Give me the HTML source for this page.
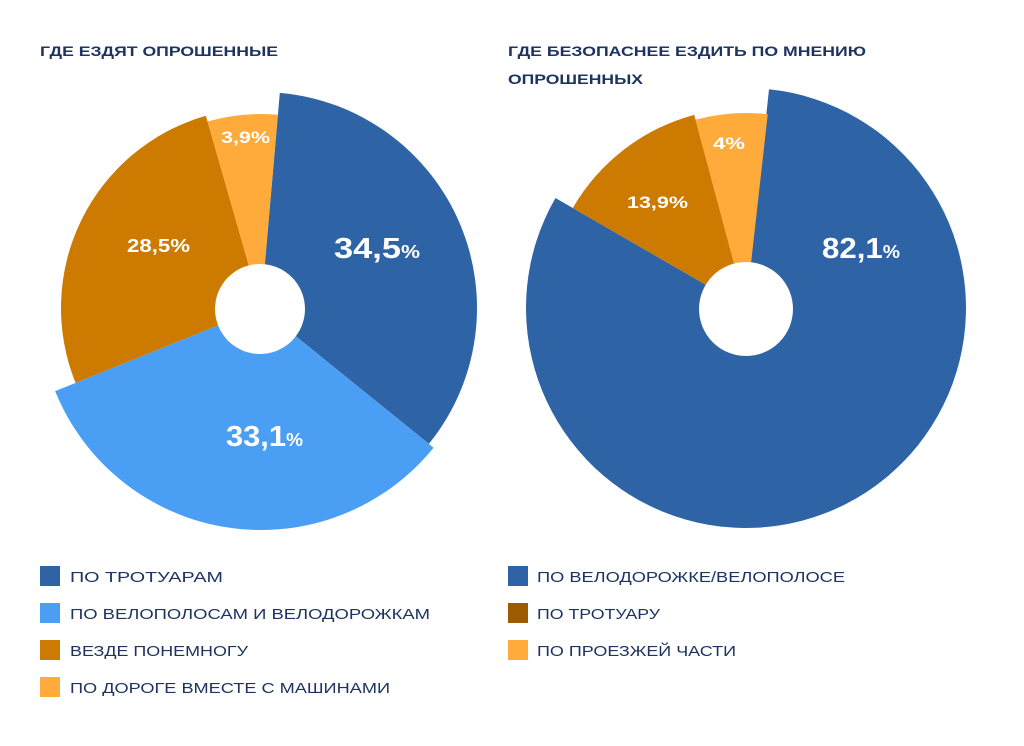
<!DOCTYPE html>
<html><head><meta charset="utf-8"><style>
body{margin:0;background:#fff;width:1024px;height:741px;overflow:hidden;font-family:"Liberation Sans",sans-serif}
</style></head><body>
<svg width="1024" height="741" viewBox="0 0 1024 741" xmlns="http://www.w3.org/2000/svg" font-family="Liberation Sans, sans-serif">
<rect width="1024" height="741" fill="#fff"/>
<g fill="#1d3461" font-size="14" font-weight="bold">
<text x="40" y="56" textLength="238" lengthAdjust="spacingAndGlyphs">ГДЕ ЕЗДЯТ ОПРОШЕННЫЕ</text>
<text x="508" y="56" textLength="358" lengthAdjust="spacingAndGlyphs">ГДЕ БЕЗОПАСНЕЕ ЕЗДИТЬ ПО МНЕНИЮ</text>
<text x="508" y="84" textLength="135" lengthAdjust="spacingAndGlyphs">ОПРОШЕННЫХ</text>
</g>
<g id="p1"></g>
<g id="p2"></g>
<g fill="#fff" font-weight="bold">
<text x="334" y="258" font-size="29" textLength="86" lengthAdjust="spacingAndGlyphs">34,5<tspan font-size="18">%</tspan></text>
<text x="226" y="446" font-size="29" textLength="77" lengthAdjust="spacingAndGlyphs">33,1<tspan font-size="18">%</tspan></text>
<text x="127" y="252" font-size="18" textLength="63" lengthAdjust="spacingAndGlyphs">28,5%</text>
<text x="221" y="143" font-size="17" textLength="49" lengthAdjust="spacingAndGlyphs">3,9%</text>
<text x="822" y="258" font-size="29" textLength="78" lengthAdjust="spacingAndGlyphs">82,1<tspan font-size="18">%</tspan></text>
<text x="627" y="208" font-size="17" textLength="61" lengthAdjust="spacingAndGlyphs">13,9%</text>
<text x="713" y="149" font-size="17" textLength="32" lengthAdjust="spacingAndGlyphs">4%</text>
</g>
<g font-size="15" fill="#1d3461">
<rect x="40" y="566" width="20" height="20" fill="#2e64a6"/><text x="70" y="582" textLength="153" lengthAdjust="spacingAndGlyphs">ПО ТРОТУАРАМ</text>
<rect x="40" y="603" width="20" height="20" fill="#4a9ff5"/><text x="70" y="619" textLength="360" lengthAdjust="spacingAndGlyphs">ПО ВЕЛОПОЛОСАМ И ВЕЛОДОРОЖКАМ</text>
<rect x="40" y="640" width="20" height="20" fill="#cc7a00"/><text x="70" y="656" textLength="178" lengthAdjust="spacingAndGlyphs">ВЕЗДЕ ПОНЕМНОГУ</text>
<rect x="40" y="677" width="20" height="20" fill="#ffab3b"/><text x="70" y="693" textLength="320" lengthAdjust="spacingAndGlyphs">ПО ДОРОГЕ ВМЕСТЕ С МАШИНАМИ</text>
<rect x="508" y="566" width="20" height="20" fill="#2e64a6"/><text x="537" y="582" textLength="308" lengthAdjust="spacingAndGlyphs">ПО ВЕЛОДОРОЖКЕ/ВЕЛОПОЛОСЕ</text>
<rect x="508" y="603" width="20" height="20" fill="#9e5a00"/><text x="537" y="619" textLength="123" lengthAdjust="spacingAndGlyphs">ПО ТРОТУАРУ</text>
<rect x="508" y="640" width="20" height="20" fill="#ffab3b"/><text x="537" y="656" textLength="199" lengthAdjust="spacingAndGlyphs">ПО ПРОЕЗЖЕЙ ЧАСТИ</text>
</g>
</svg>
<script>
function arc(cx,cy,r,a0,a1,col){var t=function(a){a=a*Math.PI/180;return [cx+r*Math.sin(a),cy-r*Math.cos(a)]};var p=t(a0),q=t(a1);var l=(a1-a0)>180?1:0;return '<path d="M'+cx+','+cy+' L'+p[0]+','+p[1]+' A'+r+','+r+' 0 '+l+' 1 '+q[0]+','+q[1]+' Z" fill="'+col+'"/>';}
document.getElementById('p1').innerHTML=arc(261,308,216,5,129,'#2e64a6')+arc(261,308,222,129,248,'#4a9ff5')+arc(261,308,200,248,344,'#cc7a00')+arc(261,308,194,344,365,'#ffab3b')+'<circle cx="260" cy="309" r="45" fill="#fff"/>';
document.getElementById('p2').innerHTML=arc(746,308,220,6,300,'#2e64a6')+arc(746,308,200,300,345,'#cc7a00')+arc(746,308,195,345,366.4,'#ffab3b')+'<circle cx="746" cy="309" r="47" fill="#fff"/>';
</script>
</body></html>
